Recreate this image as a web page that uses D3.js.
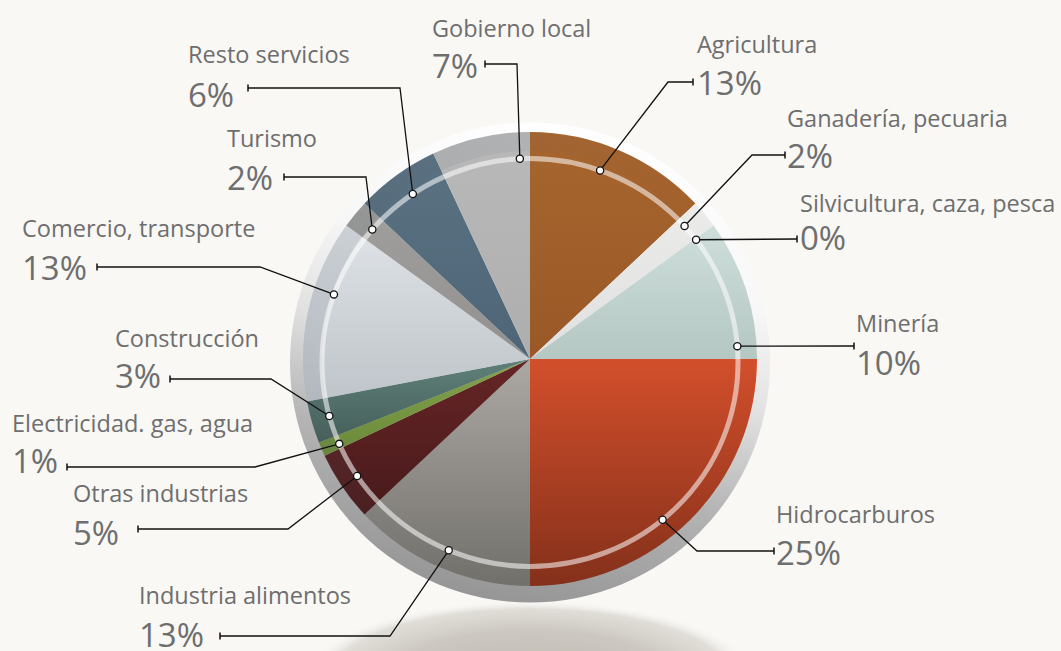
<!DOCTYPE html>
<html>
<head>
<meta charset="utf-8">
<script src="https://cdn.jsdelivr.net/npm/d3@7"></script>
<style>
  html, body { margin: 0; padding: 0; background: #f9f8f5; }
  svg { display: block; }
  text { font-family: "Open Sans", "Noto Sans", sans-serif; fill: #6e6e6e; }
</style>
</head>
<body>
<svg id="chart" width="1061" height="651"></svg>
<script>
// ---- data ----
const sectors = ["Agricultura", "Ganadería, pecuaria", "Silvicultura, caza, pesca", "Minería",
  "Hidrocarburos", "Industria alimentos", "Otras industrias", "Electricidad. gas, agua",
  "Construcción", "Comercio, transporte", "Turismo", "Resto servicios", "Gobierno local"];
const shares = [13, 2, 0, 10, 25, 13, 5, 1, 3, 13, 2, 6, 7];
const shareLabels = ["13%", "2%", "0%", "10%", "25%", "13%", "5%", "1%", "3%", "13%", "2%", "6%", "7%"];

// ---- styles ----
const topColors = ["#a7652e", "#ebebea", "#d3e2df", "#cddedb", "#d34f2b", "#aca8a3", "#662526",
  "#82a24a", "#5f8179", "#dfe3e7", "#a09f9d", "#5a7282", "#b9b9b9"];
const bottomColors = ["#9a5827", "#e0e0e0", "#c0d0cc", "#b5c7c3", "#84301b", "#72706b", "#481a1b",
  "#6a8a3a", "#455e59", "#bec4c9", "#92918f", "#4d6576", "#aeaeae"];

// ---- label layout (annotation placement) ----
const layout = [
  {a: 19.7,  lx: 697, ny: 53,  py: 95,  tx: 693, ty: 82,  ex: 668},
  {a: 48.0,  lx: 787, ny: 127, py: 168, tx: 785, ty: 155, ex: 752},
  {a: 53.0,  lx: 800, ny: 212, py: 250, tx: 797, ty: 239, ex: null},
  {a: 85.4,  lx: 856, ny: 332, py: 375, tx: 854, ty: 346, ex: null},
  {a: 140.4, lx: 776, ny: 523, py: 565, tx: 774, ty: 551, ex: 697},
  {a: 203.0, lx: 139, ny: 604, py: 647, tx: 220, ty: 636, ex: 390},
  {a: 236.2, lx: 73,  ny: 502, py: 545, tx: 138, ty: 529, ex: 288},
  {a: 246.5, lx: 12,  ny: 432, py: 473, tx: 67,  ty: 467, ex: 255},
  {a: 254.8, lx: 115, ny: 347, py: 388, tx: 170, ty: 379, ex: 271},
  {a: 289.5, lx: 22,  ny: 237, py: 280, tx: 97,  ty: 267, ex: 260},
  {a: 310.7, lx: 227, ny: 147, py: 190, tx: 284, ty: 177, ex: 366},
  {a: 325.7, lx: 188, ny: 63,  py: 107, tx: 248, ty: 88,  ex: 400},
  {a: 357.2, lx: 432, ny: 37,  py: 78,  tx: 485, ty: 64,  ex: 517}
];

const svg = d3.select("#chart");
const defs = svg.append("defs");

const cx = 530, cy = 359, R = 227;
const bez = {cx: 530, cy: 362.5, r: 240};
const ring = {cx: 530, cy: 362.5, rx: 208, ry: 204};

// shadow
const sh = defs.append("radialGradient").attr("id", "shadow");
sh.append("stop").attr("offset", 0).attr("stop-color", "#bfbbb3");
sh.append("stop").attr("offset", 0.6).attr("stop-color", "#ccc8c1");
sh.append("stop").attr("offset", 0.88).attr("stop-color", "#dcd9d3").attr("stop-opacity", 0.85);
sh.append("stop").attr("offset", 1).attr("stop-color", "#f9f8f5").attr("stop-opacity", 0);
svg.append("ellipse").attr("cx", 530).attr("cy", 676).attr("rx", 225).attr("ry", 76)
  .attr("fill", "url(#shadow)");

// bezel
const bg = defs.append("linearGradient").attr("id", "bezel")
  .attr("x1", 0.65).attr("y1", 0).attr("x2", 0.42).attr("y2", 1);
[[0, "#ffffff"], [0.3, "#f7f7f7"], [0.5, "#e2e2e3"], [0.72, "#b4b4b4"], [1, "#959595"]]
  .forEach(([o, c]) => bg.append("stop").attr("offset", o).attr("stop-color", c));
svg.append("circle").attr("cx", bez.cx).attr("cy", bez.cy).attr("r", bez.r).attr("fill", "url(#bezel)");

// slices
const pie = d3.pie().sort(null).value(d => d)(shares);
const arc = d3.arc().innerRadius(0).outerRadius(R);
const g = svg.append("g").attr("transform", `translate(${cx},${cy})`);

pie.forEach((p, i) => {
  const gr = defs.append("linearGradient").attr("id", "sg" + i)
    .attr("x1", 0).attr("y1", 0).attr("x2", 0).attr("y2", 1);
  gr.append("stop").attr("offset", 0).attr("stop-color", topColors[i]);
  gr.append("stop").attr("offset", 1).attr("stop-color", bottomColors[i]);
});

g.selectAll("path.slice").data(pie.filter(p => p.value > 0)).join("path")
  .attr("class", "slice")
  .attr("d", arc)
  .attr("fill", d => `url(#sg${d.index})`);

// outer band shading (darker on the left)
const bandG = defs.append("linearGradient").attr("id", "band")
  .attr("x1", 0).attr("y1", 0.3).attr("x2", 0.6).attr("y2", 0.6);
bandG.append("stop").attr("offset", 0).attr("stop-color", "#5a6470").attr("stop-opacity", 0.16);
bandG.append("stop").attr("offset", 1).attr("stop-color", "#5a6470").attr("stop-opacity", 0);
g.append("path")
  .attr("d", d3.arc().innerRadius(208).outerRadius(R).startAngle(0).endAngle(2 * Math.PI)())
  .attr("fill", "url(#band)");

// inner white ring
svg.append("ellipse").attr("cx", ring.cx).attr("cy", ring.cy).attr("rx", ring.rx).attr("ry", ring.ry)
  .attr("fill", "none").attr("stroke", "#ffffff").attr("stroke-opacity", 0.55).attr("stroke-width", 5);

// leaders + labels
const rad = Math.PI / 180;
const markerPos = l => [ring.cx + ring.rx * Math.sin(l.a * rad), ring.cy - ring.ry * Math.cos(l.a * rad)];

const lg = svg.append("g");
layout.forEach((l, i) => {
  const [mx, my] = markerPos(l);
  const pts = [[l.tx, l.ty]];
  if (l.ex !== null) pts.push([l.ex, l.ty]);
  pts.push([mx, my]);
  lg.append("path").attr("d", d3.line()(pts))
    .attr("fill", "none").attr("stroke", "#111").attr("stroke-width", 1.3);
  lg.append("line").attr("x1", l.tx).attr("x2", l.tx).attr("y1", l.ty - 3.5).attr("y2", l.ty + 3.5)
    .attr("stroke", "#111").attr("stroke-width", 1.5);
  lg.append("circle").attr("cx", mx).attr("cy", my).attr("r", 3.6)
    .attr("fill", "#ffffff").attr("stroke", "#111").attr("stroke-width", 1.3);

  lg.append("text").attr("x", l.lx).attr("y", l.ny)
    .attr("font-size", 23.5).text(sectors[i]);
  lg.append("text").attr("x", l.lx).attr("y", l.py)
    .attr("font-size", 33).text(shareLabels[i]);
});
</script>
</body>
</html>
